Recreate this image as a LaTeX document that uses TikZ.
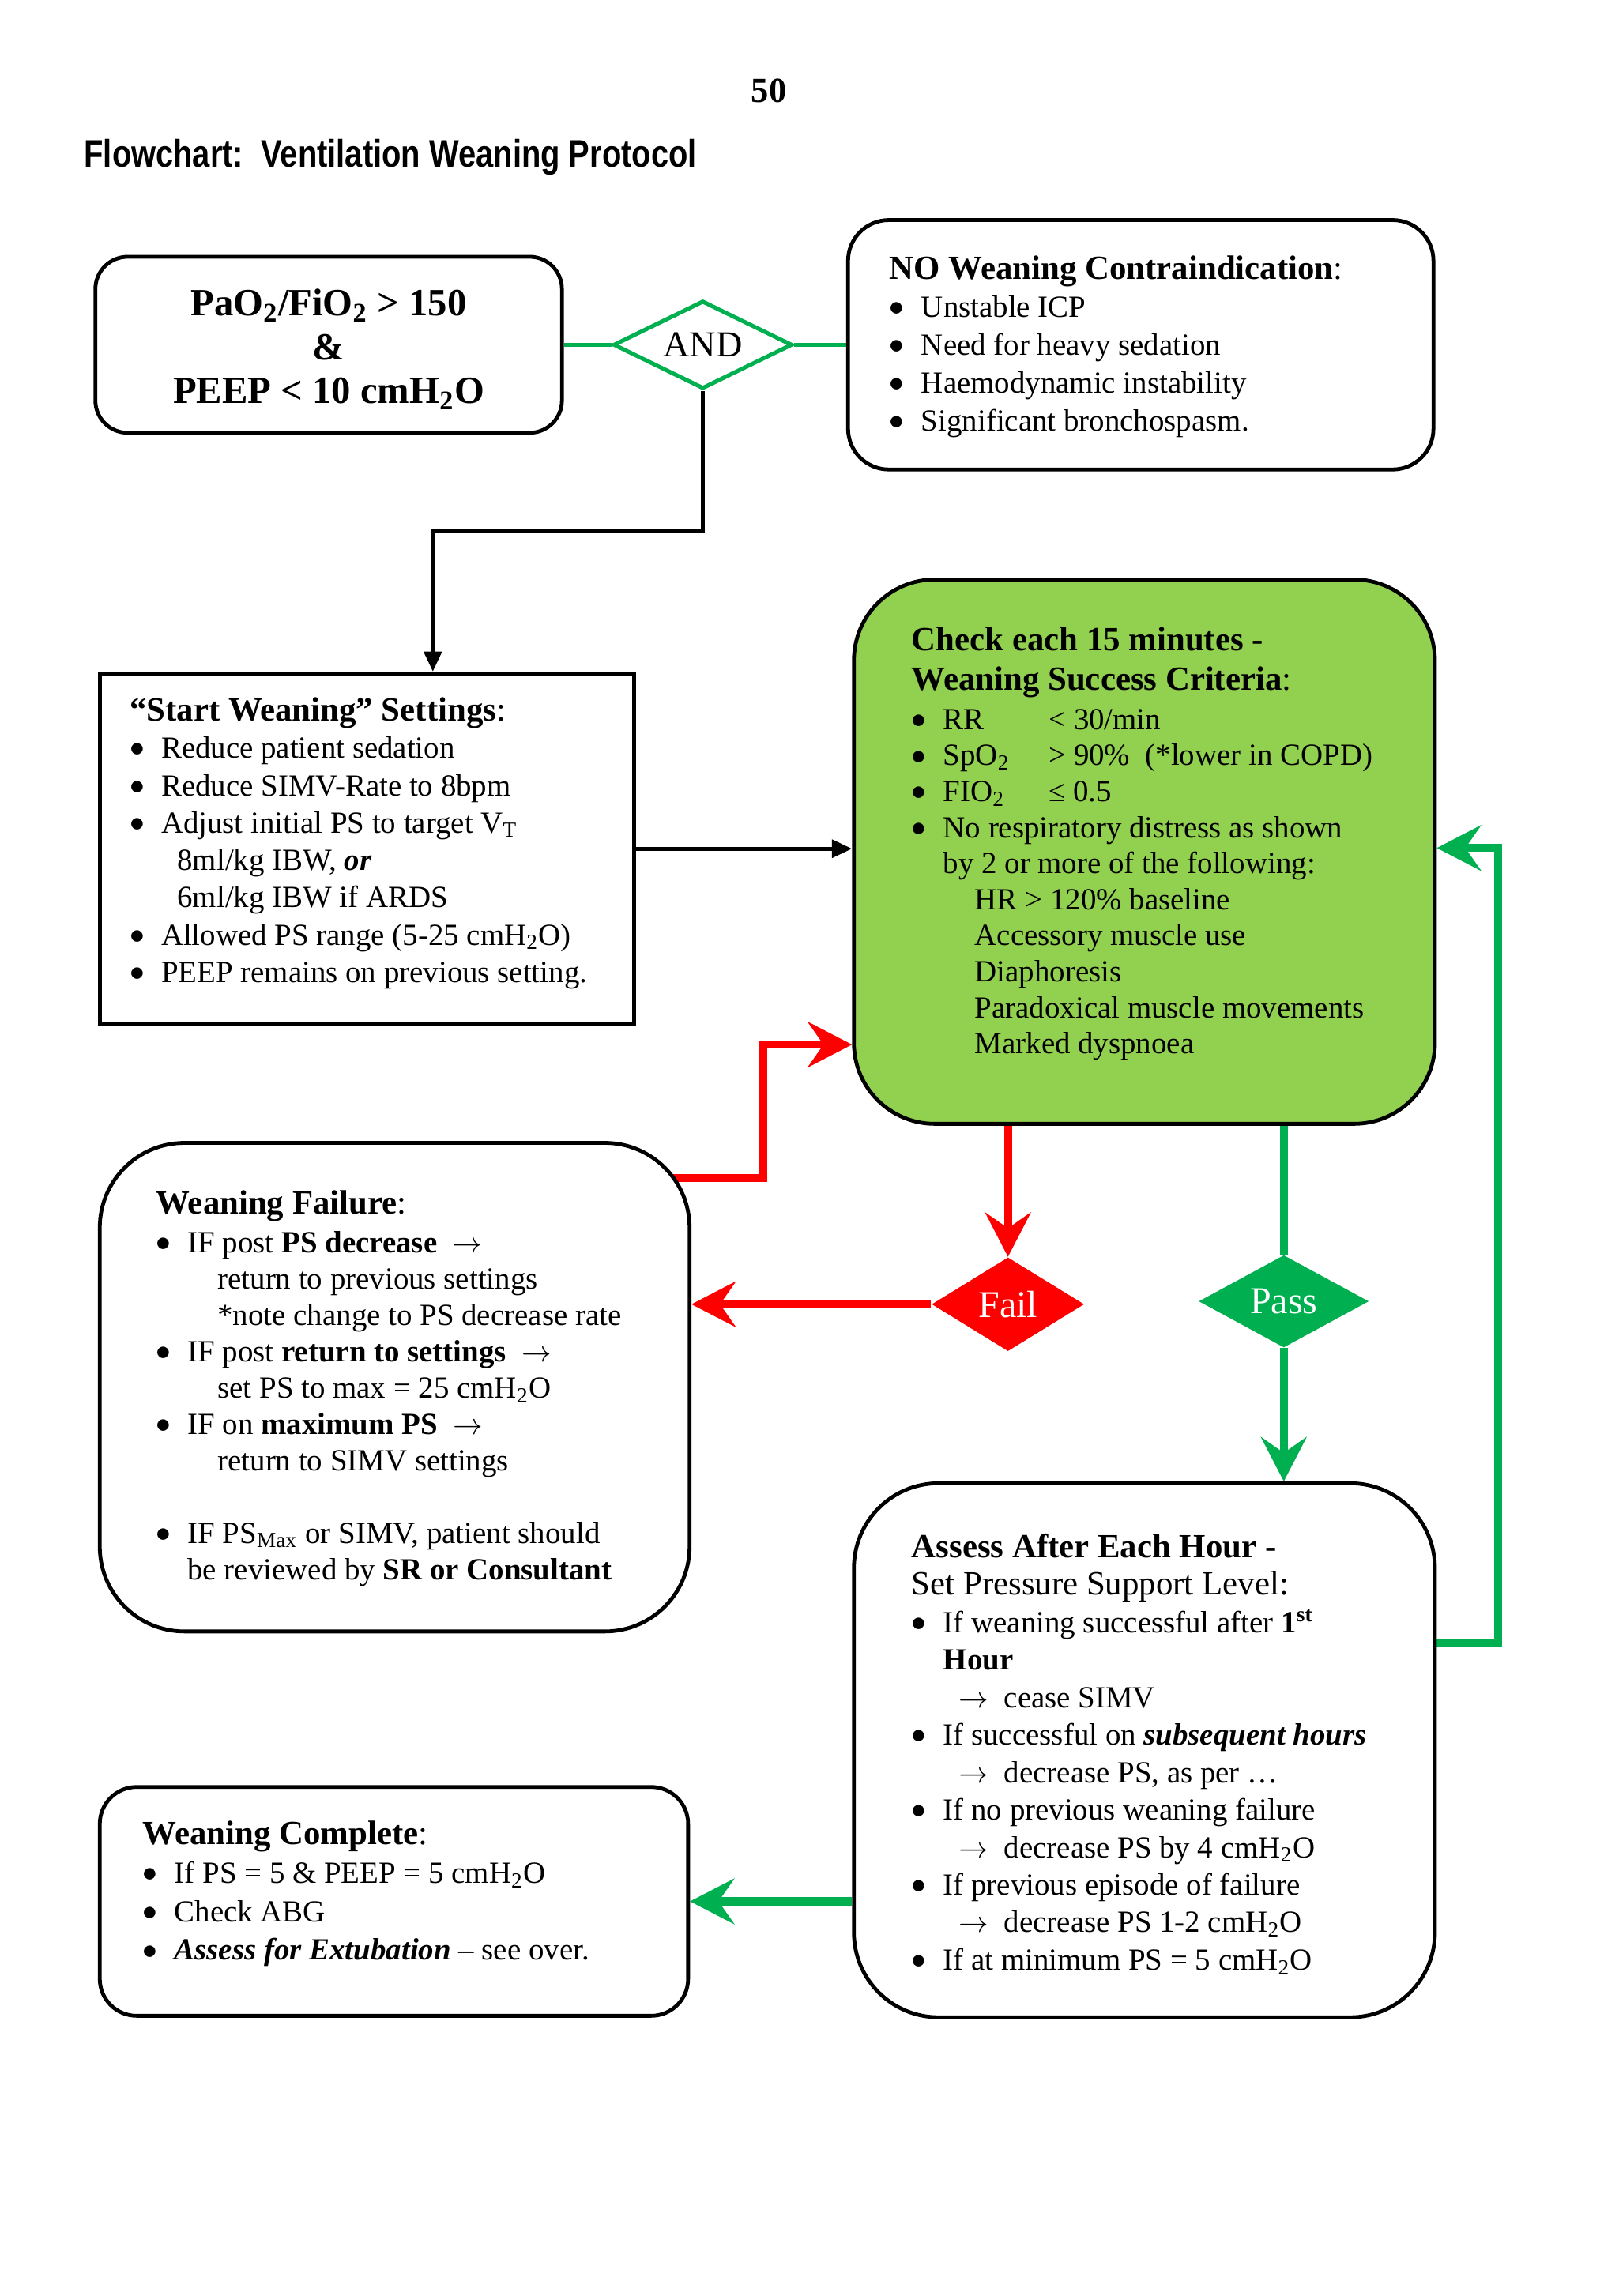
\documentclass[tikz,border=0pt]{standalone}
\usepackage{fontspec}
\setmainfont{Liberation Serif}
\newfontfamily\titlefont[FakeStretch=0.82]{Liberation Sans}
\usetikzlibrary{shapes.geometric,arrows.meta,fit,calc}
\definecolor{gfill}{HTML}{92D050}
\definecolor{gline}{HTML}{00B050}
\definecolor{rline}{HTML}{FF0000}
\pgfdeclarelayer{background}
\pgfsetlayers{background,main}
\newcommand\bul{\makebox[0.41cm][l]{\raisebox{0.1ex}{$\bullet$}}}
\newcommand\hdsz{\fontsize{12.5}{14}\selectfont}
\newcommand\rarr{$\rightarrow$}
\newcommand\arr{\hspace*{0.61cm}\makebox[0.59cm][l]{\rarr}}
\begin{document}
\begin{tikzpicture}[x=0.019039cm,y=-0.019039cm,
  box/.style={draw=black,line width=1.4pt,fill=white,inner sep=0pt},
  txt/.style={anchor=north west,inner sep=0pt,align=left,font=\fontsize{11.35}{14}\selectfont},
  dia/.style={diamond,shape aspect=2,inner sep=0pt,font=\fontsize{14}{16}\selectfont},
  bigarrow/.style={line width=3pt,-{Stealth[length=0.58cm,width=0.6cm,inset=0.21cm,line width=0.5pt]}},
  redline/.style={draw=rline,bigarrow},
  greenline/.style={draw=gline,bigarrow},
  blackarrow/.style={draw=black,line width=1.4pt,-{Triangle[length=0.26cm,width=0.23cm]}},
  andline/.style={draw=gline,line width=1.6pt}
]
\useasboundingbox (0,0) rectangle (1103,1565);

% header
\node[anchor=base,inner sep=0pt,font=\fontsize{13}{15}\selectfont\bfseries] (pagenum) at (524,70) {50};
\node[anchor=base west,inner sep=0pt,font=\titlefont\fontsize{14.2}{16}\selectfont\bfseries] (title) at (57,114) {Flowchart:\ \ Ventilation Weaning Protocol};

% boxes
\node[box,rounded corners=0.42cm,fit={(65,175) (383,295)}] (b1) {};
\node[box,rounded corners=0.53cm,fit={(578,150) (977,320)}] (b2) {};
\node[box,fit={(68,459) (432,698)}] (b3) {};
\node[box,fill=gfill,rounded corners=1.05cm,fit={(582,395) (978,766)}] (gb) {};
\node[box,rounded corners=1.1cm,fit={(68,779) (470,1112)}] (fb) {};
\node[box,rounded corners=1.1cm,fit={(582,1011) (978,1375)}] (ab) {};
\node[box,rounded corners=0.48cm,fit={(68,1218) (469,1374)}] (cb) {};

% diamonds
\node[dia,draw=gline,line width=1.5pt,fill=white,minimum width=2.323cm,minimum height=1.142cm,font=\fontsize{13.5}{15}\selectfont] (and) at (479,235) {AND};
\node[dia,fill=rline,text=white,minimum width=1.98cm,minimum height=1.219cm] (fail) at (687,889) {Fail};
\node[dia,fill=gline,text=white,minimum width=2.209cm,minimum height=1.2cm] (pass) at (875,887) {Pass};

% texts
\node[inner sep=0pt,align=center,font=\fontsize{14.2}{16.2}\selectfont\bfseries] (t1) at (224,238)
 {PaO\textsubscript{2}/FiO\textsubscript{2} > 150\\ \&\\ PEEP < 10 cmH\textsubscript{2}O};

\node[txt] (t2) at (606,174) {%
{\hdsz\textbf{NO Weaning Contraindication}:}\\
\bul Unstable ICP\\
\bul Need for heavy sedation\\
\bul Haemodynamic instability\\
\bul Significant bronchospasm.};

\node[txt,font=\fontsize{11.35}{13.8}\selectfont] (t3) at (88,475) {%
{\hdsz\textbf{“Start Weaning” Settings}:}\\
\bul Reduce patient sedation\\
\bul Reduce SIMV-Rate to 8bpm\\
\bul Adjust initial PS to target V\textsubscript{T}\\
\hspace*{0.62cm}8ml/kg IBW, \textbf{\textit{or}}\\
\hspace*{0.62cm}6ml/kg IBW if ARDS\\
\bul Allowed PS range (5-25 cmH\textsubscript{2}O)\\
\bul PEEP remains on previous setting.};

\node[txt,font=\fontsize{11.35}{13.3}\selectfont] (tg) at (621,427) {%
{\hdsz\textbf{Check each 15 minutes -}}\\[1.3pt]
{\hdsz\textbf{Weaning Success Criteria}:}\\[1.3pt]
\bul\makebox[1.37cm][l]{RR}< 30/min\\
\bul\makebox[1.37cm][l]{SpO\textsubscript{2}}> 90\%\ \ (*lower in COPD)\\
\bul\makebox[1.37cm][l]{FIO\textsubscript{2}}≤ 0.5\\
\bul No respiratory distress as shown\\
\hspace*{0.41cm}by 2 or more of the following:\\
\hspace*{0.82cm}HR > 120\% baseline\\
\hspace*{0.82cm}Accessory muscle use\\
\hspace*{0.82cm}Diaphoresis\\
\hspace*{0.82cm}Paradoxical muscle movements\\
\hspace*{0.82cm}Marked dyspnoea};

\node[txt,font=\fontsize{11.35}{13.4}\selectfont] (tf) at (106,811) {%
{\hdsz\textbf{Weaning Failure}:}\\[1pt]
\bul IF post \textbf{PS decrease}\ \ \rarr\\
\hspace*{0.8cm}return to previous settings\\
\hspace*{0.8cm}*note change to PS decrease rate\\
\bul IF post \textbf{return to settings}\ \ \rarr\\
\hspace*{0.8cm}set PS to max = 25 cmH\textsubscript{2}O\\
\bul IF on \textbf{maximum PS}\ \ \rarr\\
\hspace*{0.8cm}return to SIMV settings\\[13.4pt]
\bul IF PS\textsubscript{Max} or SIMV, patient should\\
\hspace*{0.41cm}be reviewed by \textbf{SR or Consultant}};

\node[txt,font=\fontsize{11.35}{13.85}\selectfont] (ta) at (621,1045) {%
{\hdsz\textbf{Assess After Each Hour -}}\\
{\hdsz Set Pressure Support Level:}\\
\bul If weaning successful after \textbf{1\textsuperscript{st}}\\
\hspace*{0.41cm}\textbf{Hour}\\
\arr cease SIMV\\
\bul If successful on \textbf{\textit{subsequent hours}}\\
\arr decrease PS, as per …\\
\bul If no previous weaning failure\\
\arr decrease PS by 4 cmH\textsubscript{2}O\\
\bul If previous episode of failure\\
\arr decrease PS 1-2 cmH\textsubscript{2}O\\
\bul If at minimum PS = 5 cmH\textsubscript{2}O};

\node[txt,font=\fontsize{11.35}{14.2}\selectfont] (tc) at (97,1241) {%
{\hdsz\textbf{Weaning Complete}:}\\
\bul If PS = 5 \& PEEP = 5 cmH\textsubscript{2}O\\
\bul Check ABG\\
\bul \textbf{\textit{Assess for Extubation}} – see over.};

% connectors
\coordinate (c1) at (295,362);
\coordinate (r0) at (440,803);
\coordinate (c2) at (520,712);
\coordinate (c3) at (1021,1120);
\coordinate (c4) at (1021,578);
\begin{pgfonlayer}{background}
\fill[white] (0,0) rectangle (1103,1565);
\draw[andline] (b1.east |- and.west) -- (and.west);
\draw[andline] (and.east) -- (and.east -| b2.west);
\draw[blackarrow] (and.south) |- (c1) -- (c1 |- b3.north);
\draw[blackarrow] (b3.east) -- (b3.east -| gb.west);
\draw[redline] (r0) -| (c2) -- (c2 -| gb.west);
\draw[redline] (fail.north |- gb.south) -- (fail.north);
\draw[redline] (fail.west) -- (fail.west -| fb.east);
\draw[draw=gline,line width=3pt] (pass.north |- gb.south) -- (pass.north);
\draw[greenline] (pass.south) -- (pass.south |- ab.north);
\draw[greenline] (c3 -| ab.east) -- (c3) -- (c4) -- (c4 -| gb.east);
\draw[greenline] (cb.east -| ab.west) -- (cb.east);
\end{pgfonlayer}
\end{tikzpicture}
\end{document}
